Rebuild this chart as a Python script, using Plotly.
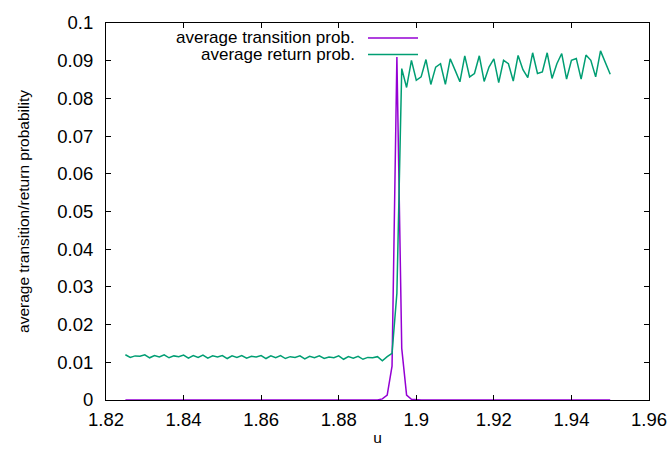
import numpy as np
import plotly.graph_objects as go

# u grid: 1.825 .. 1.95 in steps of 0.00125 (101 points)
u_start = 1.825
u_step = 0.00125
n_points = 101
u = [round(u_start + i * u_step, 5) for i in range(n_points)]

# average transition probability (zero except around the spike)
transition_spike_u = [1.89125, 1.8925, 1.89375, 1.895, 1.89625, 1.8975, 1.89875]
transition_spike_vals = [0.0003, 0.0013, 0.0090, 0.0910, 0.0137, 0.0013, 0.0002]

# average return probability
return_low = [0.0120, 0.0113, 0.0117, 0.0116, 0.0120, 0.0112, 0.0118, 0.0114, 0.0120, 0.0112,
              0.0117, 0.0115, 0.0119, 0.0111, 0.0118, 0.0113, 0.0119, 0.0111, 0.0117, 0.0114,
              0.0118, 0.0110, 0.0117, 0.0113, 0.0118, 0.0111, 0.0116, 0.0114, 0.0118, 0.0110,
              0.0117, 0.0112, 0.0118, 0.0110, 0.0115, 0.0113, 0.0117, 0.0109, 0.0116, 0.0112,
              0.0117, 0.0110, 0.0114, 0.0112, 0.0117, 0.0108, 0.0115, 0.0111, 0.0116, 0.0108,
              0.0113, 0.0112, 0.0115, 0.0104, 0.0115]
return_jump = [0.0124, 0.0283]
return_high = [0.0879, 0.0829, 0.0901, 0.0848, 0.0857, 0.0903, 0.0837, 0.0883, 0.0892, 0.0837,
               0.0905, 0.0875, 0.0844, 0.0913, 0.0857, 0.0866, 0.0913, 0.0845, 0.0883, 0.0905,
               0.0842, 0.0901, 0.0892, 0.0846, 0.0914, 0.0876, 0.0855, 0.0921, 0.0866, 0.0870,
               0.0921, 0.0853, 0.0892, 0.0919, 0.0851, 0.0901, 0.0906, 0.0851, 0.0915, 0.0901,
               0.0857, 0.0926, 0.0895, 0.0864]

series_names = ["average transition prob.", "average return prob."]
series_colors = ["#9400d3", "#009e73"]

x_ticks = [1.82, 1.84, 1.86, 1.88, 1.9, 1.92, 1.94, 1.96]
x_ticklabels = ["1.82", "1.84", "1.86", "1.88", "1.9", "1.92", "1.94", "1.96"]
y_ticks = [0, 0.01, 0.02, 0.03, 0.04, 0.05, 0.06, 0.07, 0.08, 0.09, 0.1]
y_ticklabels = ["0", "0.01", "0.02", "0.03", "0.04", "0.05", "0.06", "0.07", "0.08", "0.09", "0.1"]

spike_map = dict(zip(transition_spike_u, transition_spike_vals))
transition = [spike_map.get(v, 0.0) for v in u]
ret = return_low + return_jump + return_high

FONT = "Liberation Sans, Arial, sans-serif"
TICK_SIZE = 18.5
LEGEND_SIZE = 17
TITLE_SIZE = 15.5

fig = go.Figure()
fig.add_trace(go.Scatter(x=u, y=transition, mode="lines", name=series_names[0],
                         line=dict(color=series_colors[0], width=1.5), showlegend=False))
fig.add_trace(go.Scatter(x=u, y=ret, mode="lines", name=series_names[1],
                         line=dict(color=series_colors[1], width=1.5), showlegend=False))

# gnuplot-style legend: text right-aligned, sample line to the right
legend_y = [38.0, 54.5]
for name, color, yp in zip(series_names, series_colors, legend_y):
    yf = 1 - (yp - 23) / (400 - 23)
    fig.add_annotation(text=name, xref="paper", yref="paper",
                       x=(356 - 106) / 543, y=yf, xanchor="right", yanchor="middle",
                       showarrow=False, borderpad=0,
                       font=dict(family=FONT, size=LEGEND_SIZE, color="black"))
    fig.add_shape(type="line", xref="paper", yref="paper",
                  x0=(368 - 106) / 543, x1=(418 - 106) / 543, y0=yf, y1=yf,
                  line=dict(color=color, width=1.5))

axis_common = dict(showgrid=False, zeroline=False, showline=True, linecolor="black",
                   linewidth=1, mirror="ticks", ticks="inside", ticklen=5,
                   tickcolor="black", tickwidth=1,
                   tickfont=dict(family=FONT, size=TICK_SIZE, color="black"))

fig.update_xaxes(range=[1.82, 1.96], tickvals=x_ticks, ticktext=x_ticklabels,
                 title=dict(text="u", font=dict(family=FONT, size=TITLE_SIZE, color="black"), standoff=2),
                 ticklabelstandoff=3, **axis_common)
fig.update_yaxes(range=[0, 0.1], tickvals=y_ticks, ticktext=y_ticklabels,
                 title=dict(text="average transition/return probability",
                            font=dict(family=FONT, size=TITLE_SIZE, color="black"), standoff=23),
                 ticklabelstandoff=8, **axis_common)

fig.update_layout(width=672, height=453, margin=dict(l=106, r=23, t=23, b=53, autoexpand=False),
                  plot_bgcolor="white", paper_bgcolor="white",
                  font=dict(family=FONT, size=TICK_SIZE, color="black"))

fig.write_html("out.html", config={"displayModeBar": False},
               post_script="document.body.style.margin='0';")
